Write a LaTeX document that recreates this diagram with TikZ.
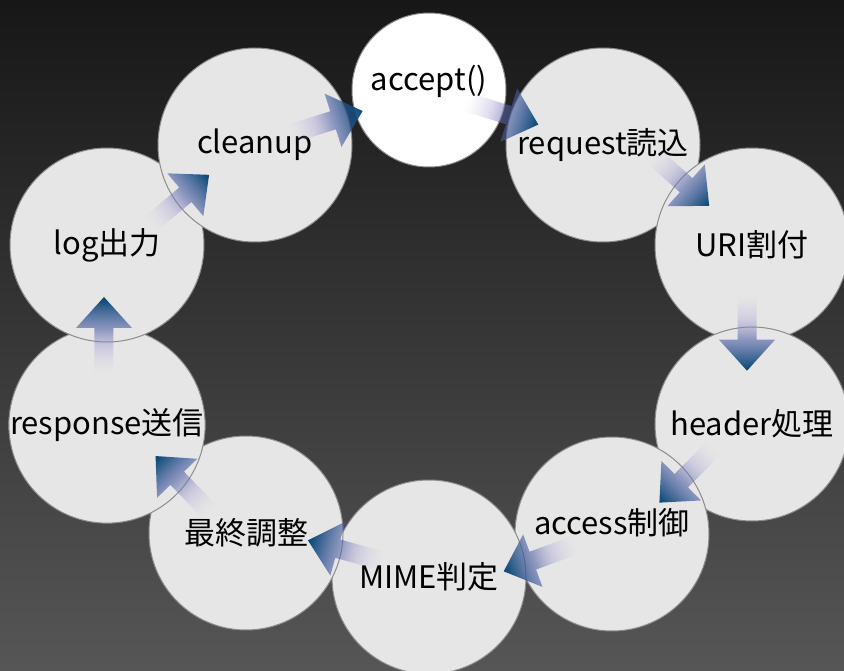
\documentclass[tikz,border=0pt]{standalone}
\usepackage{fontspec}
\newfontfamily\jpfont{Noto Sans CJK JP}
\usetikzlibrary{calc,fadings}

\definecolor{bgtop}{HTML}{171717}
\definecolor{bgbottom}{HTML}{565656}
\definecolor{stagefill}{HTML}{E6E6E6}
\definecolor{stageline}{HTML}{8C8C8C}
\definecolor{flowtail}{HTML}{CCC6EA}
\definecolor{flowshaft}{HTML}{9A94CE}
\definecolor{flowmid}{HTML}{4E5EA4}
\definecolor{flowhead}{HTML}{0A4878}

% arrow body: light lavender at the tail, dark blue at the tip
\pgfdeclarehorizontalshading{flowshading}{100bp}{color(0bp)=(flowtail); color(25bp)=(flowtail); color(42bp)=(flowshaft); color(54bp)=(flowmid); color(72bp)=(flowhead); color(100bp)=(flowhead)}
\tikzfading[name=flowfade, left color=transparent!100, middle color=transparent!0, right color=transparent!0]

\tikzset{
  stagefont/.style={font=\jpfont\fontsize{31}{37}\selectfont},
  stage/.style={circle, draw=stageline, line width=1pt, fill=stagefill,
    minimum size=194pt, inner sep=0pt, stagefont},
  flow/.style={shading=flowshading, path fading=flowfade},
}

\begin{document}
\begin{tikzpicture}[x=1pt, y=-1pt]
  % background
  \useasboundingbox (0,0) rectangle (844,671);
  \shade[top color=bgtop, bottom color=bgbottom] (0,0) rectangle (844,671);

  % stages, clockwise
  \node[stage] (request) at (603,145) {request読込};
  \node[stage] (uri) at (752,245) {URI割付};
  \node[stage] (header) at (752,424) {header処理};
  \node[stage, label={[stagefont, yshift=11pt]center:access制御}] (access) at (612,534) {};
  \node[stage] (mime) at (429,577) {MIME判定};
  \node[stage] (adjust) at (246,533) {最終調整};
  \node[stage] (response) at (107,425) {response送信};
  \node[stage] (log) at (107,245) {log出力};
  \node[stage] (cleanup) at (255,145) {cleanup};
  \node[stage, fill=white, minimum size=154pt,
    label={[stagefont, yshift=9pt]center:accept()}] (accept) at (429,90) {};

  % block arrows between neighbouring stages (position, tilt, side offset)
  \foreach \src/\dst/\pos/\tilt/\side in {cleanup/accept/0.41/0/0,
      accept/request/0.42/0/0, request/uri/0.46/-8/14, uri/header/0.49/0/-5,
      header/access/0.47/7/0, access/mime/0.41/7/7, mime/adjust/0.47/-2/-6,
      adjust/response/0.46/-8/0, response/log/0.5/0/3, log/cleanup/0.48/6/-3} {
    \pgfmathanglebetweenpoints{\pgfpointanchor{\src}{center}}{\pgfpointanchor{\dst}{center}}
    \pgfmathsetmacro\dir{\pgfmathresult+\tilt}
    \path ($(\src.center)!\pos!(\dst.center)$) coordinate (mid);
    \begin{scope}[transform canvas={shift={(mid)}, rotate=\dir}]
      \shade[flow, yshift=\side pt] (-38,-9.5) -- (7,-9.5) -- (7,-28) -- (38,0)
        -- (7,28) -- (7,9.5) -- (-38,9.5) -- cycle;
    \end{scope}
  }
\end{tikzpicture}
\end{document}
